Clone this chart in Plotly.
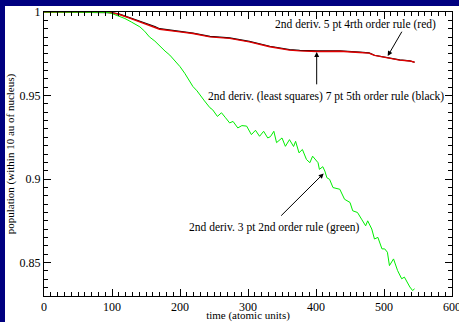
import plotly.graph_objects as go

# ---- data ----
t_red = [0, 50, 90, 100, 111, 125, 141, 163, 170, 200, 219, 244, 273, 302, 332, 361,
         376, 401, 420, 435, 464, 478, 486, 495, 508, 523, 538, 545]
v_red = [1.0, 1.0, 0.9999, 0.9995, 0.9985, 0.9965, 0.9940, 0.9910, 0.9897, 0.9881,
         0.9871, 0.9851, 0.9842, 0.9821, 0.9792, 0.9772, 0.9767, 0.9764, 0.9765, 0.9765,
         0.9758, 0.9754, 0.9740, 0.9733, 0.9723, 0.9712, 0.9707, 0.9699]

t_black = t_red
v_black = [1.0, 1.0, 0.9999, 0.9996, 0.9987, 0.9968, 0.9943, 0.9913, 0.9900, 0.9884,
           0.9874, 0.9854, 0.9845, 0.9824, 0.9795, 0.9775, 0.9770, 0.9767, 0.9767, 0.9767,
           0.9760, 0.9755, 0.9741, 0.9734, 0.9724, 0.9713, 0.9707, 0.9699]

t_green = [0, 67, 89, 97, 108, 119, 129, 141, 148, 155, 163, 170, 178, 185, 192, 200,
           207, 213, 219, 225, 229, 236, 244, 248, 255, 261, 267, 273, 278, 285, 291,
           298, 305, 311, 317, 323, 329, 333, 338, 342, 350, 355, 361, 367, 370, 375,
           380, 386, 391, 395, 403, 405, 410, 413, 416, 420, 425, 435, 442, 450, 454,
           461, 467, 473, 476, 482, 486, 491, 497, 501, 505, 508, 514, 520, 526, 530,
           538, 542, 545]
v_green = [1.0, 1.0, 0.9998, 0.9995, 0.9980, 0.9961, 0.9939, 0.9911, 0.9885, 0.9851,
           0.9826, 0.9796, 0.9766, 0.9742, 0.9712, 0.9673, 0.9633, 0.9593, 0.9554,
           0.9528, 0.9504, 0.9468, 0.9427, 0.9415, 0.9375, 0.9397, 0.9367, 0.9336,
           0.9345, 0.9306, 0.9320, 0.9317, 0.9266, 0.9292, 0.9256, 0.9286, 0.9246,
           0.9254, 0.9286, 0.9218, 0.9246, 0.9196, 0.9236, 0.9195, 0.9226, 0.9157,
           0.9177, 0.9117, 0.9098, 0.9137, 0.9098, 0.9058, 0.9074, 0.9048, 0.9008,
           0.8998, 0.8949, 0.8939, 0.8879, 0.8860, 0.8810, 0.8800, 0.8760, 0.8720,
           0.8750, 0.8701, 0.8641, 0.8651, 0.8582, 0.8582, 0.8562, 0.8482, 0.8522,
           0.8452, 0.8403, 0.8413, 0.8354, 0.8333, 0.8343]

x_ticks = [0, 100, 200, 300, 400, 500, 600]
y_ticks = [0.85, 0.9, 0.95, 1.0]
y_tick_text = ["0.85", "0.9", "0.95", "1"]

FONT = "Liberation Serif, Times New Roman, serif"
NAVY = "#000080"

L, R, T, B = 44, 7, 12, 26
W, H = 459, 322
pw, ph = W - L - R, H - T - B

fig = go.Figure()
fig.add_trace(go.Scatter(x=t_black, y=v_black, mode="lines",
                         line=dict(color="black", width=1.2), showlegend=False))
fig.add_trace(go.Scatter(x=t_red, y=v_red, mode="lines",
                         line=dict(color="#e00000", width=1.4), showlegend=False))
fig.add_trace(go.Scatter(x=t_green, y=v_green, mode="lines",
                         line=dict(color="#00ee00", width=1), showlegend=False))

def px2paper_x(p):
    return (p - L) / pw

def px2paper_y(p):
    return 1 - (p - T) / ph

# navy paper, white page area covering all but the left and top strips
fig.add_shape(type="rect", xref="paper", yref="paper",
              x0=px2paper_x(5), x1=px2paper_x(W + 20), y0=px2paper_y(H + 20),
              y1=px2paper_y(6), fillcolor="white", line=dict(width=0), layer="below")

ann_font = dict(family=FONT, size=11.5, color="black")
texts = [
    ("2nd deriv. 5 pt 4rth order rule (red)", 458.4, 0.9927),
    ("2nd deriv. (least squares) 7 pt 5th order rule (black)", 414.3, 0.9492),
    ("2nd deriv. 3 pt 2nd order rule (green)", 339.3, 0.8711),
]
for txt, x, y in texts:
    fig.add_annotation(x=x, y=y, text=txt, showarrow=False, font=ann_font,
                       bgcolor="rgba(255,255,255,0)")

arrows = [
    (505.4, 0.9736, 527.5, 0.9891),
    (401.0, 0.9760, 401.0, 0.9558),
    (411.3, 0.9034, 346.6, 0.8772),
]
for x, y, ax, ay in arrows:
    fig.add_annotation(x=x, y=y, ax=ax, ay=ay, axref="x", ayref="y", text="",
                       showarrow=True, arrowhead=2, arrowsize=1, arrowwidth=1,
                       arrowcolor="black")

fig.update_layout(
    width=W, height=H,
    margin=dict(l=L, r=R, t=T, b=B, pad=0, autoexpand=False),
    paper_bgcolor=NAVY, plot_bgcolor="white",
    font=dict(family=FONT, color="black", size=12),
    showlegend=False,
)
fig.update_xaxes(
    range=[0, 600], tickvals=x_ticks, ticks="inside", ticklen=7, tickwidth=1,
    tickcolor="black", showline=True, linecolor="black", linewidth=1,
    mirror="allticks", showgrid=False, zeroline=False, automargin=False,
    ticklabeloverflow="allow",
    tickfont=dict(family=FONT, size=12, color="black"),
    minor=dict(dtick=10, ticks="inside", ticklen=4, tickcolor="black", showgrid=False),
    title=dict(text="time (atomic units)", font=dict(family=FONT, size=11, color="black"),
               standoff=2),
)
fig.update_yaxes(
    range=[0.83, 1.0], tickvals=y_ticks, ticktext=y_tick_text, ticks="inside",
    ticklen=7, tickwidth=1, tickcolor="black", showline=True, linecolor="black",
    linewidth=1, mirror="allticks", showgrid=False, zeroline=False, automargin=False,
    ticklabeloverflow="allow",
    tickfont=dict(family=FONT, size=12, color="black"),
    minor=dict(dtick=0.005, tick0=0.83, ticks="inside", ticklen=4, tickcolor="black",
               showgrid=False),
    title=dict(text="population (within 10 au of nucleus)",
               font=dict(family=FONT, size=11, color="black"), standoff=2),
)

fig.write_html(
    "out.html",
    config={"displayModeBar": False, "staticPlot": True},
    post_script=("document.body.style.margin='0';document.body.style.overflow='hidden';"
                 "document.documentElement.style.overflow='hidden';"
                 "document.body.style.background='white';"),
)
